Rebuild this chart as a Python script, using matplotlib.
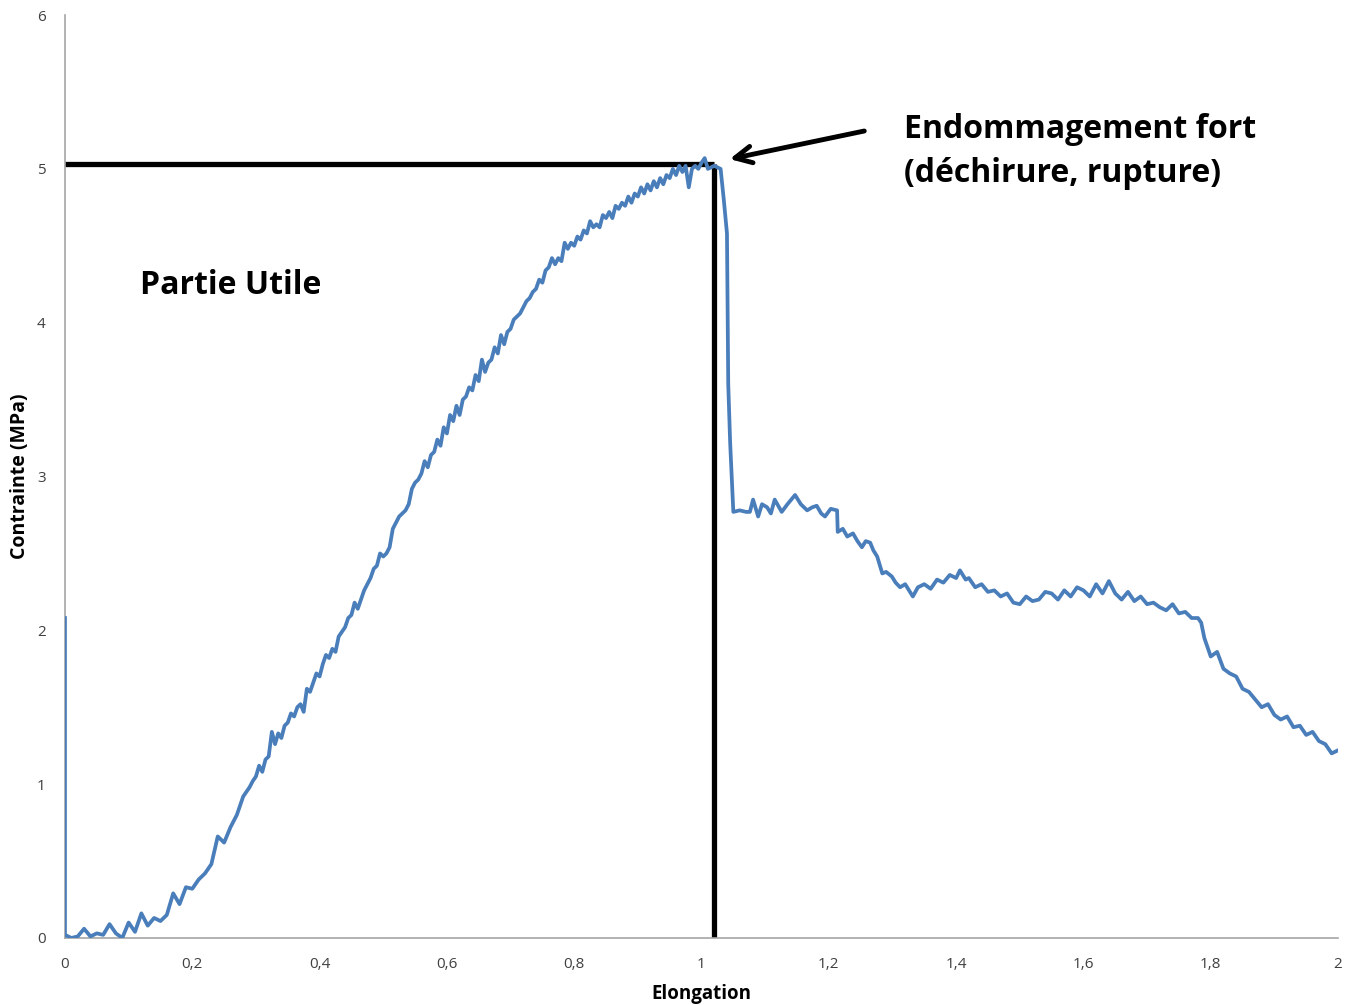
import numpy as np
import matplotlib.pyplot as plt

# stress-strain curve
# foot of the curve (0 - 0.295)
elong_foot = [0.0, 0.0, 0.01, 0.02, 0.03, 0.04, 0.05, 0.06, 0.07, 0.08, 0.09,
              0.10, 0.11, 0.12, 0.13, 0.14, 0.15, 0.16, 0.17, 0.18, 0.19, 0.20,
              0.21, 0.22, 0.23, 0.24, 0.25, 0.26, 0.27, 0.28, 0.29, 0.295]
stress_foot = [2.08, 0.02, 0.00, 0.01, 0.06, 0.01, 0.03, 0.02, 0.09, 0.03, 0.00,
               0.10, 0.04, 0.16, 0.08, 0.13, 0.11, 0.15, 0.29, 0.22, 0.33, 0.32,
               0.38, 0.42, 0.48, 0.66, 0.62, 0.72, 0.80, 0.92, 0.98, 1.02]

# useful part (0.30 - 1.005)
elong_rise = [0.300, 0.305, 0.310, 0.315, 0.320, 0.325, 0.330, 0.335, 0.340,
              0.345, 0.350, 0.355, 0.360, 0.365, 0.370, 0.375, 0.380, 0.385,
              0.390, 0.395, 0.400, 0.405, 0.410, 0.415, 0.420, 0.425, 0.430,
              0.435, 0.440, 0.445, 0.450, 0.455, 0.460, 0.465, 0.470, 0.475,
              0.480, 0.485, 0.490, 0.495, 0.500, 0.505, 0.510, 0.515, 0.520,
              0.525, 0.530, 0.535, 0.540, 0.545, 0.550, 0.555, 0.560, 0.565,
              0.570, 0.575, 0.580, 0.585, 0.590, 0.595, 0.600, 0.605, 0.610,
              0.615, 0.620, 0.625, 0.630, 0.635, 0.640, 0.645, 0.650, 0.655,
              0.660, 0.665, 0.670, 0.675, 0.680, 0.685, 0.690, 0.695, 0.700,
              0.705, 0.710, 0.715, 0.720, 0.725, 0.730, 0.735, 0.740, 0.745,
              0.750, 0.755, 0.760, 0.765, 0.770, 0.775, 0.780, 0.785, 0.790,
              0.795, 0.800, 0.805, 0.810, 0.815, 0.820, 0.825, 0.830, 0.835,
              0.840, 0.845, 0.850, 0.855, 0.860, 0.865, 0.870, 0.875, 0.880,
              0.885, 0.890, 0.895, 0.900, 0.905, 0.910, 0.915, 0.920, 0.925,
              0.930, 0.935, 0.940, 0.945, 0.950, 0.955, 0.960, 0.965, 0.970,
              0.975, 0.980, 0.985, 0.990, 0.995, 1.000, 1.005]
stress_rise = [1.05, 1.12, 1.08, 1.16, 1.18, 1.34, 1.26, 1.33, 1.30,
               1.38, 1.40, 1.46, 1.44, 1.50, 1.52, 1.47, 1.62, 1.60,
               1.66, 1.72, 1.70, 1.78, 1.84, 1.82, 1.88, 1.86, 1.96,
               1.99, 2.02, 2.08, 2.10, 2.18, 2.14, 2.20, 2.26, 2.30,
               2.34, 2.40, 2.42, 2.50, 2.48, 2.50, 2.54, 2.66, 2.70,
               2.74, 2.76, 2.78, 2.82, 2.92, 2.96, 2.98, 3.02, 3.10,
               3.06, 3.14, 3.16, 3.24, 3.20, 3.32, 3.28, 3.40, 3.36,
               3.46, 3.40, 3.50, 3.52, 3.58, 3.56, 3.66, 3.62, 3.76,
               3.68, 3.74, 3.76, 3.84, 3.80, 3.92, 3.86, 3.94, 3.96,
               4.02, 4.04, 4.06, 4.10, 4.14, 4.16, 4.20, 4.22, 4.28,
               4.26, 4.34, 4.36, 4.42, 4.38, 4.42, 4.40, 4.52, 4.48,
               4.52, 4.50, 4.56, 4.54, 4.60, 4.58, 4.66, 4.62, 4.64,
               4.62, 4.70, 4.68, 4.72, 4.68, 4.76, 4.74, 4.78, 4.76,
               4.82, 4.78, 4.84, 4.82, 4.88, 4.84, 4.90, 4.86, 4.92,
               4.88, 4.94, 4.90, 4.96, 4.94, 5.00, 4.96, 5.02, 4.98,
               5.02, 4.88, 5.00, 5.02, 5.00, 5.04, 5.07]

# rupture and after
elong_after = [1.01, 1.02, 1.03, 1.035, 1.04, 1.042, 1.045, 1.05, 1.06, 1.07,
               1.076, 1.081, 1.089, 1.095, 1.103, 1.109, 1.115, 1.126, 1.135,
               1.147, 1.156, 1.166, 1.174, 1.181, 1.188, 1.194, 1.203, 1.213,
               1.214, 1.222, 1.229, 1.238, 1.245, 1.252, 1.258, 1.265, 1.27,
               1.276, 1.284, 1.29, 1.299, 1.305, 1.312, 1.32, 1.332, 1.34, 1.35,
               1.36, 1.37, 1.38, 1.39, 1.40, 1.406, 1.415, 1.42, 1.43, 1.44,
               1.45, 1.46, 1.47, 1.48, 1.49, 1.50, 1.51, 1.52, 1.53, 1.54, 1.55,
               1.56, 1.57, 1.58, 1.59, 1.60, 1.61, 1.62, 1.63, 1.64, 1.65, 1.66,
               1.67, 1.68, 1.69, 1.70, 1.71, 1.72, 1.73, 1.74, 1.75, 1.76, 1.77,
               1.78, 1.785, 1.79, 1.80, 1.81, 1.82, 1.83, 1.84, 1.85, 1.86,
               1.87, 1.88, 1.89, 1.90, 1.91, 1.92, 1.93, 1.94, 1.95, 1.96, 1.97,
               1.98, 1.99, 2.0]
stress_after = [5.00, 5.02, 5.00, 4.80, 4.58, 3.60, 3.22, 2.77, 2.78, 2.77,
                2.77, 2.85, 2.74, 2.82, 2.80, 2.76, 2.85, 2.77, 2.82,
                2.88, 2.82, 2.78, 2.80, 2.81, 2.76, 2.74, 2.79, 2.78,
                2.64, 2.66, 2.61, 2.63, 2.58, 2.54, 2.58, 2.57, 2.52,
                2.48, 2.37, 2.38, 2.35, 2.31, 2.28, 2.30, 2.22, 2.28, 2.30,
                2.27, 2.33, 2.31, 2.36, 2.34, 2.39, 2.33, 2.34, 2.28, 2.30,
                2.25, 2.26, 2.22, 2.24, 2.18, 2.17, 2.22, 2.19, 2.20, 2.25, 2.24,
                2.20, 2.26, 2.22, 2.28, 2.26, 2.22, 2.30, 2.24, 2.32, 2.24, 2.20,
                2.25, 2.19, 2.22, 2.17, 2.18, 2.15, 2.13, 2.17, 2.11, 2.12, 2.08,
                2.08, 2.05, 1.95, 1.83, 1.86, 1.75, 1.72, 1.70, 1.62, 1.60,
                1.55, 1.50, 1.52, 1.45, 1.42, 1.44, 1.37, 1.38, 1.32, 1.34,
                1.28, 1.26, 1.20, 1.22]

elong = elong_foot + elong_rise + elong_after
stress = stress_foot + stress_rise + stress_after

rupture_x = 1.02
rupture_y = 5.03

xticks = [0, 0.2, 0.4, 0.6, 0.8, 1, 1.2, 1.4, 1.6, 1.8, 2]
xticklabels = ["0", "0,2", "0,4", "0,6", "0,8", "1", "1,2", "1,4", "1,6", "1,8", "2"]
yticks = [0, 1, 2, 3, 4, 5, 6]

plt.rcParams['font.family'] = ['Open Sans', 'DejaVu Sans']

fig = plt.figure(figsize=(13.51, 10.05), dpi=100)
ax = fig.add_axes([0.0481, 0.0667, 0.9423, 0.9183])

ax.plot(elong, stress, color="#4a7ebb", lw=2.7, zorder=3,
        solid_joinstyle="round")

# marked point of rupture
ax.plot([-0.008, rupture_x], [rupture_y, rupture_y], color="black", lw=3.8,
        solid_capstyle="butt", zorder=2)
ax.plot([rupture_x, rupture_x], [rupture_y, 0], color="black", lw=3.8,
        solid_capstyle="butt", zorder=2)

ax.annotate("", xy=(1.04, 5.06), xytext=(1.26, 5.25),
            arrowprops=dict(arrowstyle="->", color="black", lw=3.5,
                            mutation_scale=30))
ax.text(1.318, 5.115, "Endommagement fort\n(déchirure, rupture)",
        fontsize=23, fontweight="bold", ha="left", va="center",
        linespacing=1.45)
ax.text(0.118, 4.24, "Partie Utile", fontsize=23, fontweight="bold",
        ha="left", va="center")

ax.set_xlim(0, 2)
ax.set_ylim(0, 6)
ax.set_xticks(xticks)
ax.set_xticklabels(xticklabels)
ax.set_yticks(yticks)
ax.tick_params(length=0, labelsize=11, colors="#404040", pad=14)
ax.tick_params(axis="y", pad=14)

for s in ["top", "right"]:
    ax.spines[s].set_visible(False)
for s in ["left", "bottom"]:
    ax.spines[s].set_color("#a6a6a6")
    ax.spines[s].set_linewidth(1.2)

ax.set_xlabel("Elongation", fontsize=13.5, fontweight="bold", labelpad=8)
ax.set_ylabel("Contrainte (MPa)", fontsize=14, fontweight="bold", labelpad=5)

fig.savefig("out.png", dpi=100)
